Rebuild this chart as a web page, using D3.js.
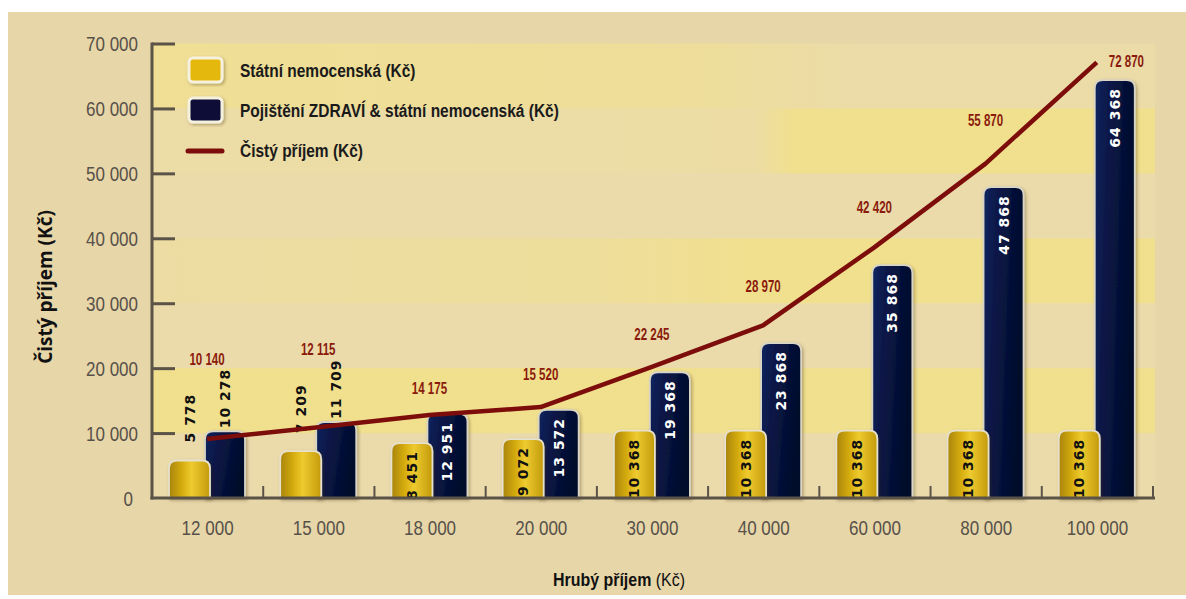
<!DOCTYPE html>
<html>
<head>
<meta charset="utf-8">
<script src="https://cdn.jsdelivr.net/npm/d3@7"></script>
<style>
  body { margin: 0; background: #fff; }
  svg { display: block; }
</style>
</head>
<body>
<div id="chart-container"></div>
<script>
// Hrubý příjem vs. nemocenská a čistý příjem
const grossIncome = [12000, 15000, 18000, 20000, 30000, 40000, 60000, 80000, 100000];
const stateSickPay = [5778, 7209, 8451, 9072, 10368, 10368, 10368, 10368, 10368];
const insuredSickPay = [10278, 11709, 12951, 13572, 19368, 23868, 35868, 47868, 64368];
// the red line as it is drawn in the picture (sits a bit below its printed numbers)
const netIncomeLine = [9100, 10900, 12800, 14000, 20200, 26600, 38600, 51500, 67100];
const netIncomeLabels = [10140, 12115, 14175, 15520, 22245, 28970, 42420, 55870, 72870];
const yTicks = [0, 10000, 20000, 30000, 40000, 50000, 60000, 70000];

const W = 1186, H = 599;
const fmt = d3.formatLocale({ decimal: ",", thousands: " ", grouping: [3] }).format(",d");
const sans = "'Liberation Sans', Arial, sans-serif";

// no condensed font installed -> squeeze the glyphs
function condense(sel, k) {
    sel.each(function () {
        const L = this.getComputedTextLength();
        this.setAttribute("textLength", L * k);
        this.setAttribute("lengthAdjust", "spacingAndGlyphs");
    });
}

const svg = d3.select("#chart-container").append("svg")
    .attr("width", W).attr("height", H);

const defs = svg.append("defs");
const gold = defs.append("linearGradient").attr("id", "gold");
[["0%", "#a98406"], ["35%", "#d9b012"], ["55%", "#eecb30"], ["100%", "#c39a0b"]]
    .forEach(s => gold.append("stop").attr("offset", s[0]).attr("stop-color", s[1]));
const navy = defs.append("linearGradient").attr("id", "navy").attr("x2", "1").attr("y2", "0.3");
[["0%", "#10245e"], ["40%", "#081645"], ["100%", "#040b2a"]]
    .forEach(s => navy.append("stop").attr("offset", s[0]).attr("stop-color", s[1]));
const shadow = defs.append("filter").attr("id", "shadow").attr("x", "-20%").attr("y", "-10%")
    .attr("width", "150%").attr("height", "130%");
shadow.append("feDropShadow").attr("dx", 1.5).attr("dy", 1.5).attr("stdDeviation", 1.5)
    .attr("flood-color", "#3a2e10").attr("flood-opacity", 0.35);

function stripeGrad(id, stops) {
    const g = defs.append("linearGradient").attr("id", id);
    stops.forEach(s => g.append("stop").attr("offset", s[0])
        .attr("stop-color", "#f1e08a").attr("stop-opacity", s[1]));
}
stripeGrad("s1", [["0%", 0.9], ["100%", 0.9]]);
stripeGrad("s3", [["0%", 0.25], ["45%", 0.5], ["60%", 0.9], ["100%", 0.9]]);
stripeGrad("s5", [["0%", 0.15], ["60%", 0.2], ["64%", 0.9], ["100%", 0.9]]);
stripeGrad("s6", [["0%", 0.7], ["55%", 0.5], ["70%", 0.1], ["100%", 0.1]]);

// pozadí
svg.append("rect").attr("x", 8).attr("y", 12).attr("width", W - 8).attr("height", 583)
    .attr("fill", "#e7d6a8");

const x = d3.scaleBand().domain(grossIncome).range([152, 1153]).padding(0);
const y = d3.scaleLinear().domain([0, 70000]).range([498, 43.5]);

const plotL = 152, plotR = 1155;
svg.append("rect").attr("x", plotL).attr("y", y(70000)).attr("width", plotR - plotL)
    .attr("height", y(0) - y(70000)).attr("fill", "#ebdbab");
[[10000, "s1"], [30000, "s3"], [50000, "s5"], [60000, "s6"]].forEach(([v, id]) => {
    svg.append("rect").attr("x", plotL).attr("width", plotR - plotL)
        .attr("y", y(v + 10000)).attr("height", y(v) - y(v + 10000))
        .attr("fill", `url(#${id})`);
});

// sloupce se zaoblenými horními rohy
function topRounded(x0, w, top, bottom, r) {
    r = Math.min(r, (bottom - top), w / 2);
    return `M${x0},${bottom}V${top + r}Q${x0},${top} ${x0 + r},${top}H${x0 + w - r}` +
        `Q${x0 + w},${top} ${x0 + w},${top + r}V${bottom}Z`;
}
const goldOff = 17, navyOff = 53, goldW = 41, navyW = 40;
const rows = grossIncome.map((g, i) => ({
    g, gold: stateSickPay[i], ins: insuredSickPay[i],
    line: netIncomeLine[i], net: netIncomeLabels[i]
}));

svg.append("g").selectAll("path").data(rows).enter().append("path")
    .attr("d", d => topRounded(x(d.g) + navyOff, navyW, y(d.ins), y(0), 8))
    .attr("fill", "url(#navy)").attr("stroke", "#d8d4c6").attr("stroke-width", 1.8)
    .attr("filter", "url(#shadow)");
svg.append("g").selectAll("path").data(rows).enter().append("path")
    .attr("d", d => topRounded(x(d.g) + goldOff, goldW, y(d.gold), y(0), 8))
    .attr("fill", "url(#gold)").attr("stroke", "#e6e0cc").attr("stroke-width", 1.8)
    .attr("filter", "url(#shadow)");

// popisky sloupců (svisle)
const labelsAboveUntil = 15000;
function barLabel(cx, v, isNavy, above) {
    const top = y(v);
    const t = svg.append("text")
        .attr("font-family", "'DejaVu Sans', sans-serif").attr("font-weight", "bold")
        .attr("font-size", 14).attr("letter-spacing", 1)
        .attr("dominant-baseline", "central")
        .text(fmt(v));
    if (above) {
        const gap = isNavy ? 3 : 18;
        t.attr("text-anchor", "start").attr("fill", "#111")
            .attr("transform", `translate(${cx},${top - gap}) rotate(-90)`);
    } else {
        t.attr("text-anchor", "end").attr("fill", isNavy ? "#fff" : "#111")
            .attr("transform", `translate(${cx},${top + 8}) rotate(-90)`);
    }
    return t;
}
const navyLabelTop = {};
rows.forEach(d => {
    const above = d.g <= labelsAboveUntil;
    barLabel(x(d.g) + goldOff + goldW / 2, d.gold, false, above);
    const t = barLabel(x(d.g) + navyOff + navyW / 2, d.ins, true, above);
    if (above) navyLabelTop[d.g] = y(d.ins) - 3 - t.node().getComputedTextLength();
});

// čára čistého příjmu
const lx = d => x(d.g) + navyOff + 2;
svg.append("path").datum(rows)
    .attr("d", d3.line().x(lx).y(d => y(d.line)))
    .attr("fill", "none").attr("stroke", "#7c0d0b").attr("stroke-width", 4.5)
    .attr("stroke-linejoin", "round");

rows.forEach((d, i) => {
    const py = y(d.line);
    const t = svg.append("text").attr("font-family", sans).attr("font-weight", "bold")
        .attr("font-size", 16).attr("fill", "#8a1a0c").text(fmt(d.net));
    if (i === rows.length - 1) {
        t.attr("x", lx(d) + 12).attr("y", py + 5).attr("text-anchor", "start");
    } else {
        // stoupá-li čára prudce, posuň popisek výš
        const rise = py - y(rows[i + 1].line);
        let by = py - 20 - 0.17 * rise;
        if (navyLabelTop[d.g] !== undefined) by = Math.min(by, navyLabelTop[d.g] - 4);
        t.attr("x", lx(d)).attr("y", by).attr("text-anchor", "middle");
    }
    condense(t, 0.72);
});

// osy
const axisCol = "#5b5347";
const yAxis = svg.append("g").attr("transform", `translate(${plotL},0)`)
    .call(d3.axisLeft(y).tickValues(yTicks).tickSizeInner(-23).tickSizeOuter(0)
        .tickPadding(14).tickFormat(fmt));
yAxis.select(".domain").attr("stroke", axisCol).attr("stroke-width", 3)
    .attr("d", `M0,${y(70000) - 1}V${y(0) + 1.5}`);
yAxis.selectAll(".tick line").attr("stroke", axisCol).attr("stroke-width", 3)
    .attr("x1", 0);
yAxis.selectAll(".tick").filter(v => v === 0).select("line").remove();
yAxis.selectAll(".tick text").attr("font-family", sans).attr("font-size", 20)
    .attr("fill", "#57514a").attr("dy", "0.35em");
yAxis.selectAll(".tick text").filter(v => v === 0).attr("dx", -5);
condense(yAxis.selectAll(".tick text"), 0.85);

const xAxis = svg.append("g").attr("transform", `translate(0,${y(0)})`)
    .call(d3.axisBottom(x).tickSize(0).tickPadding(23).tickFormat(fmt));
xAxis.select(".domain").attr("stroke", axisCol).attr("stroke-width", 3)
    .attr("d", `M${plotL - 1.5},0H${plotR}`);
xAxis.selectAll(".tick text").attr("font-family", sans).attr("font-size", 20)
    .attr("fill", "#57514a");
condense(xAxis.selectAll(".tick text"), 0.85);
xAxis.selectAll(".sep").data(grossIncome).enter().append("line")
    .attr("x1", d => x(d) + x.bandwidth()).attr("x2", d => x(d) + x.bandwidth())
    .attr("y1", 0).attr("y2", -12).attr("stroke", axisCol).attr("stroke-width", 2);

// názvy os
svg.append("text").attr("transform", `translate(52,287) rotate(-90)`)
    .attr("text-anchor", "middle").attr("font-family", "'Open Sans', sans-serif")
    .attr("font-weight", "bold").attr("font-size", 19).attr("fill", "#111")
    .text("Čistý příjem (Kč)");
const xt = svg.append("g").attr("transform", "translate(619,586) scale(0.84,1)")
    .append("text").attr("text-anchor", "middle")
    .attr("font-family", sans).attr("font-size", 19).attr("fill", "#111");
xt.append("tspan").attr("font-weight", "bold").text("Hrubý příjem");
xt.append("tspan").text(" (Kč)");

// legenda
const legend = svg.append("g").attr("font-family", sans).attr("font-weight", "bold")
    .attr("font-size", 18).attr("fill", "#1a1a1a");
legend.append("rect").attr("x", 189).attr("y", 58).attr("width", 33).attr("height", 24).attr("rx", 4)
    .attr("fill", "#e5b80b").attr("stroke", "#f6f1de").attr("stroke-width", 3).attr("filter", "url(#shadow)");
legend.append("rect").attr("x", 189).attr("y", 98).attr("width", 33).attr("height", 24).attr("rx", 4)
    .attr("fill", "#0a0e38").attr("stroke", "#f6f1de").attr("stroke-width", 3).attr("filter", "url(#shadow)");
legend.append("line").attr("x1", 188).attr("x2", 222).attr("y1", 151).attr("y2", 151)
    .attr("stroke", "#7c0d0b").attr("stroke-width", 5).attr("stroke-linecap", "round");
legend.append("text").attr("x", 240).attr("y", 77).text("Státní nemocenská (Kč)");
legend.append("text").attr("x", 240).attr("y", 117).text("Pojištění ZDRAVÍ & státní nemocenská (Kč)");
legend.append("text").attr("x", 240).attr("y", 157).text("Čistý příjem (Kč)");
condense(legend.selectAll("text"), 0.86);
</script>
</body>
</html>
